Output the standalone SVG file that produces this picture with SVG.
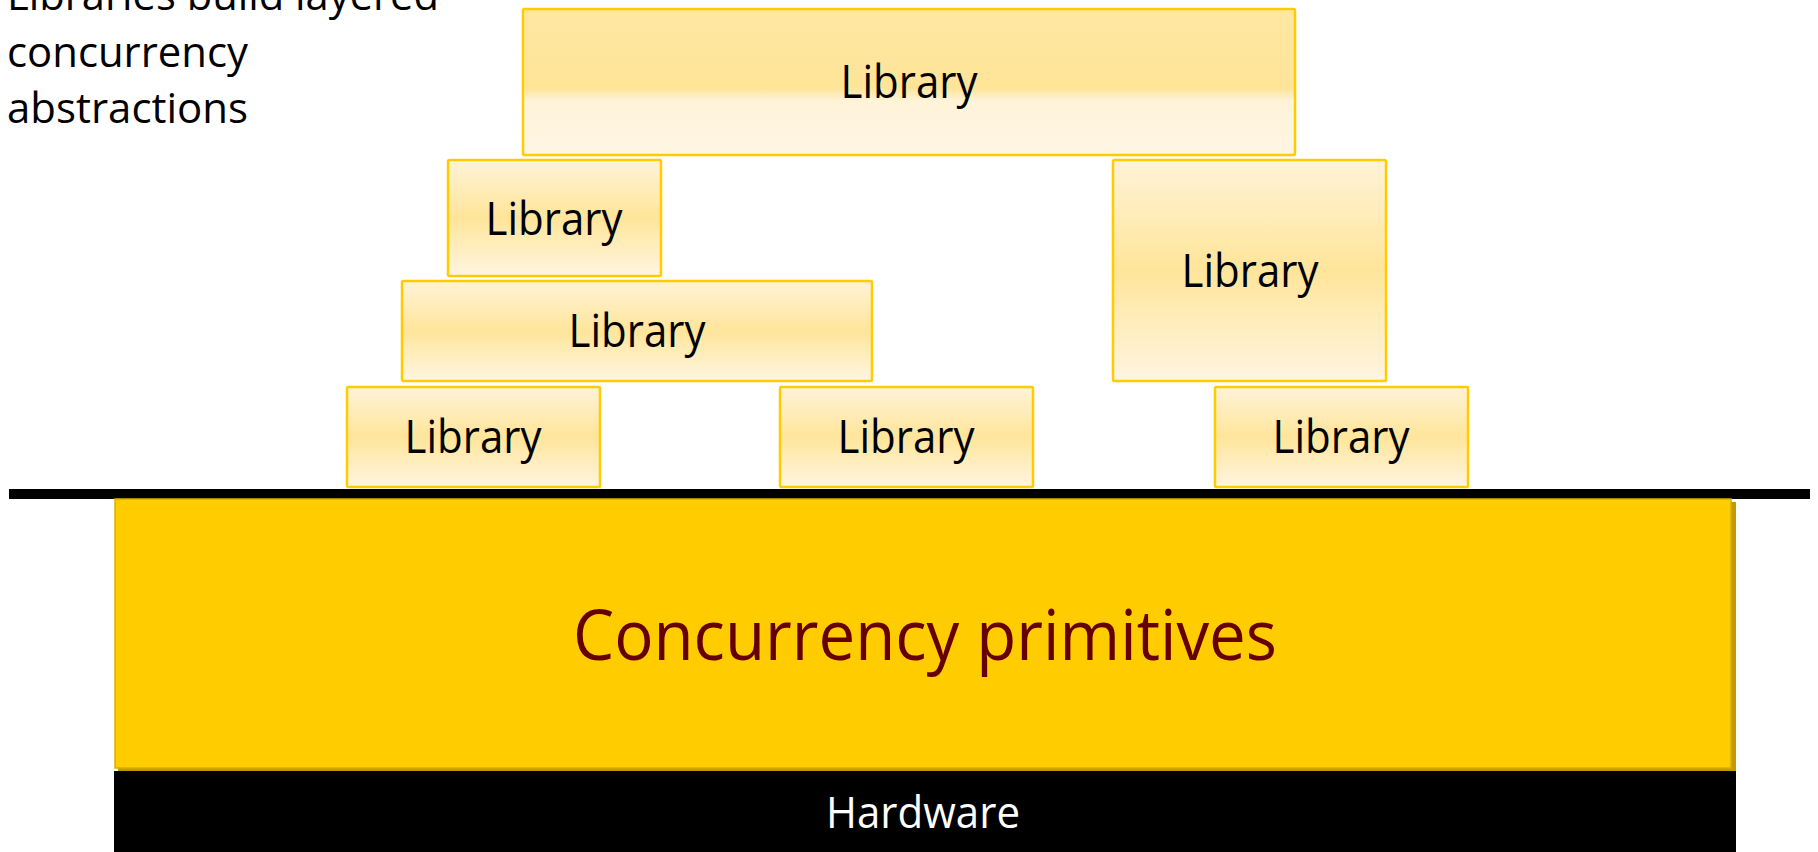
<svg xmlns="http://www.w3.org/2000/svg" width="1818" height="852" viewBox="0 0 1818 852">
  <style>
    .lib { stroke: #FFCC00; stroke-width: 2.5; fill: url(#libGrad); }
    .libtxt { font-family: "Open Sans", "Noto Sans", sans-serif; font-size: 46px; fill: #000; text-anchor: middle; }
    .title { font-family: "Open Sans", "Noto Sans", sans-serif; font-size: 42px; fill: #000; }
  </style>
  <defs>
    <linearGradient id="libGrad" x1="0" y1="0" x2="0" y2="1">
      <stop offset="0" stop-color="#FFF3D8"/>
      <stop offset="0.5" stop-color="#FFE59A"/>
      <stop offset="1" stop-color="#FFF5E1"/>
    </linearGradient>
    <linearGradient id="topGrad" x1="0" y1="0" x2="0" y2="1">
      <stop offset="0" stop-color="#FFE7A2"/>
      <stop offset="0.54" stop-color="#FFE498"/>
      <stop offset="0.63" stop-color="#FFF3D9"/>
      <stop offset="1" stop-color="#FFF6E3"/>
    </linearGradient>
  </defs>
  <rect x="0" y="0" width="1818" height="852" fill="#FFFFFF"/>

  <g id="caption">
    <text class="title" x="7" y="10" textLength="432" lengthAdjust="spacingAndGlyphs">Libraries build layered</text>
    <text class="title" x="7" y="67" textLength="241" lengthAdjust="spacingAndGlyphs">concurrency</text>
    <text class="title" x="7" y="123" textLength="241" lengthAdjust="spacingAndGlyphs">abstractions</text>
  </g>

  <g id="lib-top">
    <rect x="523" y="9" width="772" height="146" rx="1.5" stroke="#FFCC00" stroke-width="2.5" fill="url(#topGrad)"/>
    <text class="libtxt" x="909" y="98" textLength="137" lengthAdjust="spacingAndGlyphs">Library</text>
  </g>
  <g id="lib-2">
    <rect class="lib" x="448" y="160" width="213" height="116" rx="1.5"/>
    <text class="libtxt" x="554" y="235" textLength="137" lengthAdjust="spacingAndGlyphs">Library</text>
  </g>
  <g id="lib-3">
    <rect class="lib" x="402" y="281" width="470" height="100" rx="1.5"/>
    <text class="libtxt" x="637" y="347" textLength="137" lengthAdjust="spacingAndGlyphs">Library</text>
  </g>
  <g id="lib-7">
    <rect class="lib" x="1113" y="160" width="273" height="221" rx="1.5"/>
    <text class="libtxt" x="1250" y="287" textLength="137" lengthAdjust="spacingAndGlyphs">Library</text>
  </g>
  <g id="lib-4">
    <rect class="lib" x="347" y="387" width="253" height="100" rx="1.5"/>
    <text class="libtxt" x="473" y="453" textLength="137" lengthAdjust="spacingAndGlyphs">Library</text>
  </g>
  <g id="lib-5">
    <rect class="lib" x="780" y="387" width="253" height="100" rx="1.5"/>
    <text class="libtxt" x="906" y="453" textLength="137" lengthAdjust="spacingAndGlyphs">Library</text>
  </g>
  <g id="lib-6">
    <rect class="lib" x="1215" y="387" width="253" height="100" rx="1.5"/>
    <text class="libtxt" x="1341" y="453" textLength="137" lengthAdjust="spacingAndGlyphs">Library</text>
  </g>

  <g id="divider">
    <rect x="9" y="489" width="1801" height="10" fill="#000"/>
  </g>

  <g id="primitives">
    <rect x="118" y="502" width="1618" height="269" fill="#C29B00"/>
    <rect x="115" y="499" width="1616" height="269" fill="#FFCC00" stroke="#D9AE00" stroke-width="1.5"/>
    <text x="925" y="660" font-family="Open Sans, Noto Sans, sans-serif" font-size="70" fill="#660000" text-anchor="middle" textLength="704" lengthAdjust="spacingAndGlyphs">Concurrency primitives</text>
  </g>

  <g id="hardware">
    <rect x="114" y="771" width="1622" height="81" fill="#000"/>
    <text x="923" y="828" font-family="Open Sans, Noto Sans, sans-serif" font-size="43" fill="#FFFFFF" text-anchor="middle" textLength="194" lengthAdjust="spacingAndGlyphs">Hardware</text>
  </g>
</svg>
